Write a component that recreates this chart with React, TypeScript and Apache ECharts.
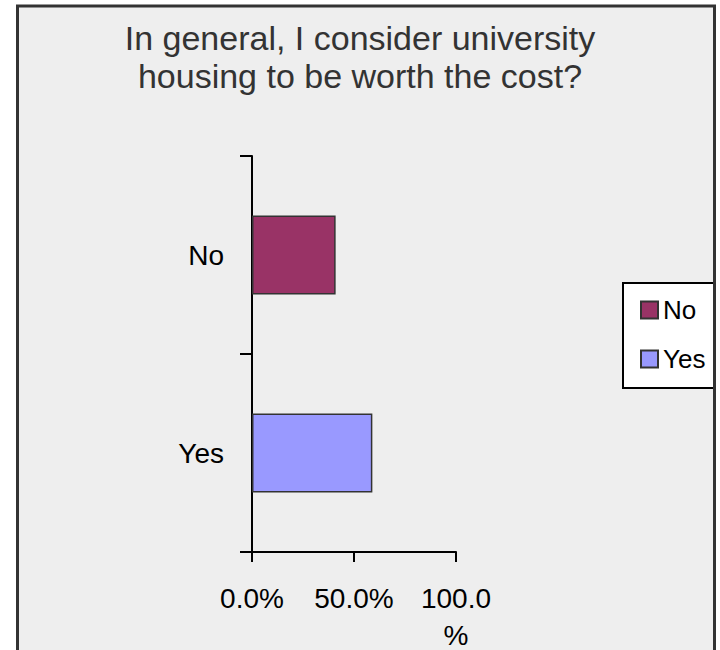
import React, { useEffect, useRef } from "react";
import * as echarts from "echarts";

const titleLines = ["In general, I consider university", "housing to be worth the cost?"];
const categories = ["No", "Yes"];
const noValues = [41, "-"];
const yesValues = ["-", 59];
const xTickLabels = ["0.0%", "50.0%", "100.0\n%"];
const xTickValues = [0, 50, 100];

export default function App() {
  const ref = useRef<HTMLDivElement>(null);
  useEffect(() => {
    if (!ref.current) return;
    const chart = echarts.init(ref.current, null, { renderer: "svg" });
    const font = "'Liberation Sans', Arial, Helvetica, sans-serif";
    chart.setOption({
      animation: false,
      textStyle: { fontFamily: font },
      graphic: [
        {
          type: "rect",
          z: -10,
          silent: true,
          shape: { x: 17.5, y: 6, width: 697, height: 700 },
          style: { fill: "#eeeeee", stroke: "none" },
        },
        {
          type: "rect",
          z: 100,
          silent: true,
          shape: { x: 17.5, y: 6, width: 697, height: 700 },
          style: { fill: "none", stroke: "#333333", lineWidth: 3 },
        },
      ],
      title: {
        text: titleLines.join("\n"),
        left: "center",
        top: 14,
        padding: [5, 5, 5, 13],
        textStyle: {
          fontFamily: font,
          fontSize: 34,
          fontWeight: "normal",
          color: "#333333",
          lineHeight: 38,
        },
      },
      legend: {
        orient: "vertical",
        left: 623,
        top: 283,
        data: categories,
        backgroundColor: "#ffffff",
        borderColor: "#000000",
        borderWidth: 2,
        borderRadius: 0,
        padding: [12, 9, 14, 17],
        itemWidth: 17,
        itemHeight: 17,
        itemGap: 19,
        itemTextGap: 10,
        icon: "rect",
        textStyle: { fontFamily: font, fontSize: 26, color: "#000", lineHeight: 30 },
      },
      grid: {
        left: 252,
        right: 264,
        top: 156,
        bottom: 98,
        containLabel: false,
        outerBoundsMode: "none",
      },
      xAxis: {
        type: "value",
        min: 0,
        max: 100,
        interval: 50,
        splitLine: { show: false },
        axisLine: { show: true, lineStyle: { color: "#000", width: 2 } },
        axisTick: { show: true, length: 10, lineStyle: { color: "#000", width: 2 } },
        axisLabel: {
          margin: 28,
          fontFamily: font,
          fontSize: 28,
          color: "#000",
          lineHeight: 37,
          verticalAlign: "top",
          formatter: (v: number) => {
            const i = xTickValues.indexOf(v);
            return i >= 0 ? xTickLabels[i] : "";
          },
        },
      },
      yAxis: {
        type: "category",
        data: categories,
        inverse: true,
        axisLine: { show: true, lineStyle: { color: "#000", width: 2 } },
        axisTick: { show: true, length: 12, lineStyle: { color: "#000", width: 2 } },
        axisLabel: { margin: 28, fontFamily: font, fontSize: 28, color: "#000" },
      },
      series: [
        {
          name: "No",
          type: "bar",
          stack: "s",
          data: noValues,
          barCategoryGap: "60%",
          itemStyle: { color: "#993366", borderColor: "#333333", borderWidth: 1.5 },
        },
        {
          name: "Yes",
          type: "bar",
          stack: "s",
          data: yesValues,
          barCategoryGap: "60%",
          itemStyle: { color: "#9999ff", borderColor: "#333333", borderWidth: 1.5 },
        },
      ],
    });
    return () => chart.dispose();
  }, []);
  return (
    <div
      ref={ref}
      style={{ position: "absolute", left: 0, top: 0, width: 720, height: 650 }}
    />
  );
}
